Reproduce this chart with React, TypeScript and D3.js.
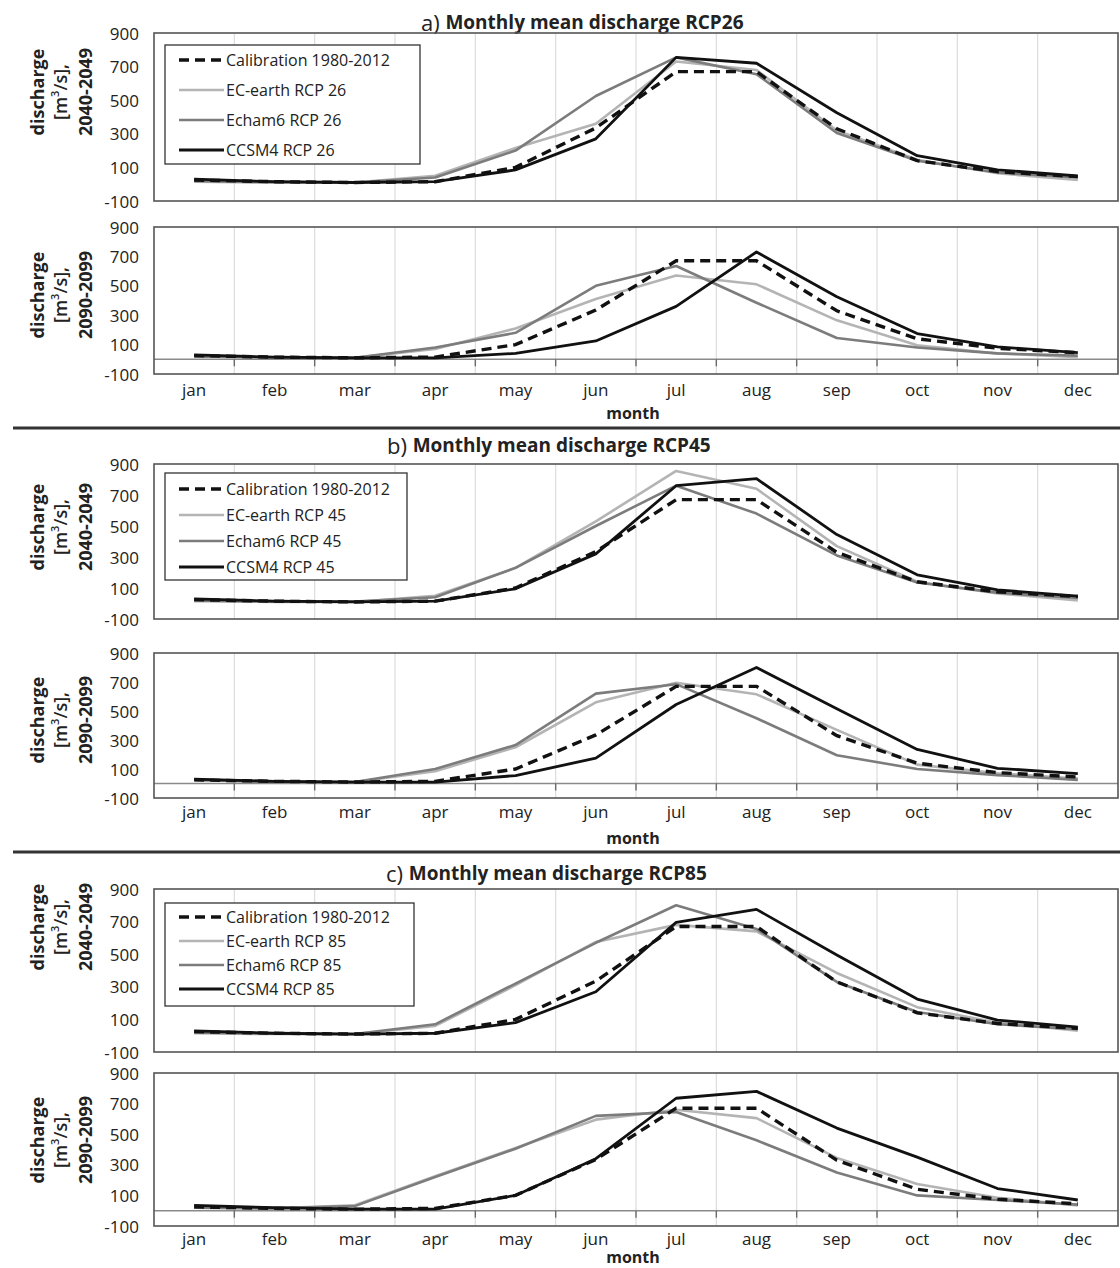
import * as d3 from "d3";

const months = ["jan", "feb", "mar", "apr", "may", "jun", "jul", "aug", "sep", "oct", "nov", "dec"];
const yTicks = [-100, 100, 300, 500, 700, 900];
const scenarios = ["26", "45", "85"];
const periods = ["2040-2049", "2090-2099"];

// Calibration 1980-2012, same in every panel
const calibration = [25, 15, 10, 15, 100, 335, 670, 670, 330, 140, 75, 45];

// RCP 2.6
const ecEarth26_2040 = [15, 10, 10, 50, 215, 360, 730, 680, 320, 145, 65, 25];
const echam26_2040 = [20, 12, 10, 40, 200, 525, 755, 655, 305, 140, 70, 40];
const ccsm26_2040 = [30, 15, 10, 15, 85, 270, 755, 720, 425, 170, 85, 50];
const ecEarth26_2090 = [20, 12, 10, 70, 210, 410, 570, 510, 265, 95, 40, 15];
const echam26_2090 = [20, 12, 10, 80, 180, 500, 635, 385, 145, 80, 40, 25];
const ccsm26_2090 = [30, 15, 10, 10, 40, 125, 360, 730, 425, 175, 85, 45];

// RCP 4.5
const ecEarth45_2040 = [15, 10, 10, 50, 230, 530, 855, 740, 370, 140, 65, 20];
const echam45_2040 = [20, 12, 12, 40, 230, 500, 760, 580, 310, 135, 70, 35];
const ccsm45_2040 = [30, 15, 10, 15, 95, 320, 760, 805, 445, 185, 88, 48];
const ecEarth45_2090 = [25, 12, 10, 85, 250, 560, 695, 615, 370, 130, 70, 35];
const echam45_2090 = [25, 12, 10, 100, 265, 620, 685, 450, 195, 100, 58, 25];
const ccsm45_2090 = [30, 15, 10, 10, 55, 175, 545, 800, 515, 235, 105, 68];

// RCP 8.5
const ecEarth85_2040 = [15, 10, 10, 60, 310, 575, 680, 640, 385, 175, 80, 30];
const echam85_2040 = [20, 12, 10, 70, 320, 570, 800, 655, 330, 145, 70, 40];
const ccsm85_2040 = [30, 15, 10, 15, 80, 270, 695, 775, 495, 225, 96, 53];
const ecEarth85_2090 = [20, 15, 35, 225, 410, 595, 660, 605, 345, 175, 85, 35];
const echam85_2090 = [20, 15, 30, 220, 405, 620, 645, 460, 250, 100, 70, 40];
const ccsm85_2090 = [35, 20, 10, 10, 100, 340, 735, 780, 540, 350, 145, 70];

const seriesData = [
  [[ecEarth26_2040, echam26_2040, ccsm26_2040], [ecEarth26_2090, echam26_2090, ccsm26_2090]],
  [[ecEarth45_2040, echam45_2040, ccsm45_2040], [ecEarth45_2090, echam45_2090, ccsm45_2090]],
  [[ecEarth85_2040, echam85_2040, ccsm85_2040], [ecEarth85_2090, echam85_2090, ccsm85_2090]],
];

const FONT = "'Open Sans', 'DejaVu Sans', sans-serif";
const X0 = 154;
const X1 = 1118;

// layout of each section
const sections = [
  { letter: "a)", titleX: 421, titleY: 22, sepY: 428,
    top: { y0: 33, y1: 201, labelY: 92, legend: { y: 45, w: 255, h: 119, first: 15, step: 30 } },
    bot: { y0: 227, y1: 374, labelY: 295, monthY: 389, titleY: 413 } },
  { letter: "b)", titleX: 387, titleY: 445, sepY: 852,
    top: { y0: 464, y1: 619, labelY: 527, legend: { y: 473, w: 242, h: 107, first: 16, step: 26 } },
    bot: { y0: 653, y1: 798, labelY: 720, monthY: 811, titleY: 838 } },
  { letter: "c)", titleX: 386, titleY: 873, sepY: null,
    top: { y0: 889, y1: 1052, labelY: 927, legend: { y: 903, w: 249, h: 103, first: 14, step: 24 } },
    bot: { y0: 1073, y1: 1226, labelY: 1140, monthY: 1238, titleY: 1257 } },
];

const styles = [
  { color: "#b4b4b4", width: 2.6, dash: null },
  { color: "#7c7c7c", width: 2.6, dash: null },
  { color: "#111", width: 2.8, dash: null },
];
const calStyle = { color: "#111", width: 3.4, dash: "10,6" };

const x = d3.scaleBand<string>().domain(months).range([X0, X1]);
const cx = (m: string) => (x(m) as number) + x.bandwidth() / 2;

function Panel({ cfg, data, period, rcp, isBottom }: any) {
  const y = d3.scaleLinear().domain([-100, 900]).range([cfg.y1, cfg.y0]);
  const line = d3
    .line<number>()
    .x((_, i) => cx(months[i]))
    .y((d) => y(d));
  const lg = cfg.legend;
  const legendItems = [
    { label: "Calibration 1980-2012", st: calStyle },
    { label: `EC-earth RCP ${rcp}`, st: styles[0] },
    { label: `Echam6 RCP ${rcp}`, st: styles[1] },
    { label: `CCSM4 RCP ${rcp}`, st: styles[2] },
  ];
  return (
    <g>
      {/* vertical gridlines */}
      {months.slice(1).map((m) => (
        <line key={m} x1={x(m)} x2={x(m)} y1={cfg.y0} y2={cfg.y1} stroke="#dcdcdc" strokeWidth={1.2} />
      ))}
      {isBottom && (
        <g>
          <line x1={X0} x2={X1} y1={y(0)} y2={y(0)} stroke="#8a8a8a" strokeWidth={1.6} />
          {months.slice(1).map((m) => (
            <line key={m} x1={x(m)} x2={x(m)} y1={y(0)} y2={y(0) + 7} stroke="#6a6a6a" strokeWidth={1.4} />
          ))}
        </g>
      )}
      <rect x={X0} y={cfg.y0} width={X1 - X0} height={cfg.y1 - cfg.y0} fill="none" stroke="#555" strokeWidth={1.6} />
      {yTicks.map((t) => (
        <text key={t} x={139} y={y(t)} textAnchor="end" dominantBaseline="central" fontSize={17} fill="#222">
          {t}
        </text>
      ))}
      {/* y axis title */}
      <g fontSize={18} fill="#222" textAnchor="middle">
        <text transform={`translate(37,${cfg.labelY}) rotate(-90)`} dominantBaseline="central" fontWeight="bold">discharge</text>
        <text transform={`translate(60,${cfg.labelY}) rotate(-90)`} dominantBaseline="central" fontWeight={600}>
          [m<tspan fontSize={11} dy={-6}>3</tspan><tspan dy={6}>/s],</tspan>
        </text>
        <text transform={`translate(85,${cfg.labelY}) rotate(-90)`} dominantBaseline="central" fontWeight="bold">{period}</text>
      </g>
      {/* series */}
      {data.map((vals: number[], i: number) =>
        i < 2 ? (
          <path key={i} d={line(vals) as string} fill="none" stroke={styles[i].color} strokeWidth={styles[i].width} strokeLinejoin="round" />
        ) : null
      )}
      <path d={line(calibration) as string} fill="none" stroke={calStyle.color} strokeWidth={calStyle.width} strokeDasharray={calStyle.dash} />
      <path d={line(data[2]) as string} fill="none" stroke={styles[2].color} strokeWidth={styles[2].width} strokeLinejoin="round" />
      {isBottom &&
        months.map((m) => (
          <text key={m} x={cx(m)} y={cfg.monthY} textAnchor="middle" dominantBaseline="central" fontSize={17} fill="#222">
            {m}
          </text>
        ))}
      {isBottom && (
        <text x={633} y={cfg.titleY} textAnchor="middle" dominantBaseline="central" fontSize={16} fontWeight="bold" fill="#222">
          month
        </text>
      )}
      {lg && (
        <g>
          <rect x={165} y={lg.y} width={lg.w} height={lg.h} fill="#fff" stroke="#333" strokeWidth={1.3} />
          {legendItems.map((it, i) => {
            const ly = lg.y + lg.first + i * lg.step;
            return (
              <g key={i}>
                <line x1={179} x2={224} y1={ly} y2={ly} stroke={it.st.color} strokeWidth={it.st.width} strokeDasharray={it.st.dash || undefined} />
                <text x={226} y={ly} dominantBaseline="central" fontSize={16} fill="#222">{it.label}</text>
              </g>
            );
          })}
        </g>
      )}
    </g>
  );
}

export default function App() {
  return (
    <svg width={1120} height={1268} style={{ position: "absolute", left: 0, top: 0, background: "#fff" }} fontFamily={FONT}>
      {sections.map((s, si) => (
        <g key={si}>
          <text x={s.titleX} y={s.titleY} dominantBaseline="central" fill="#222">
            <tspan fontSize={22}>{s.letter} </tspan>
            <tspan fontSize={19} fontWeight="bold">{`Monthly mean discharge RCP${scenarios[si]}`}</tspan>
          </text>
          <Panel cfg={s.top} data={seriesData[si][0]} period={periods[0]} rcp={scenarios[si]} isBottom={false} />
          <Panel cfg={s.bot} data={seriesData[si][1]} period={periods[1]} rcp={scenarios[si]} isBottom={true} />
          {s.sepY && <line x1={13} x2={1120} y1={s.sepY} y2={s.sepY} stroke="#333" strokeWidth={3} />}
        </g>
      ))}
    </svg>
  );
}
